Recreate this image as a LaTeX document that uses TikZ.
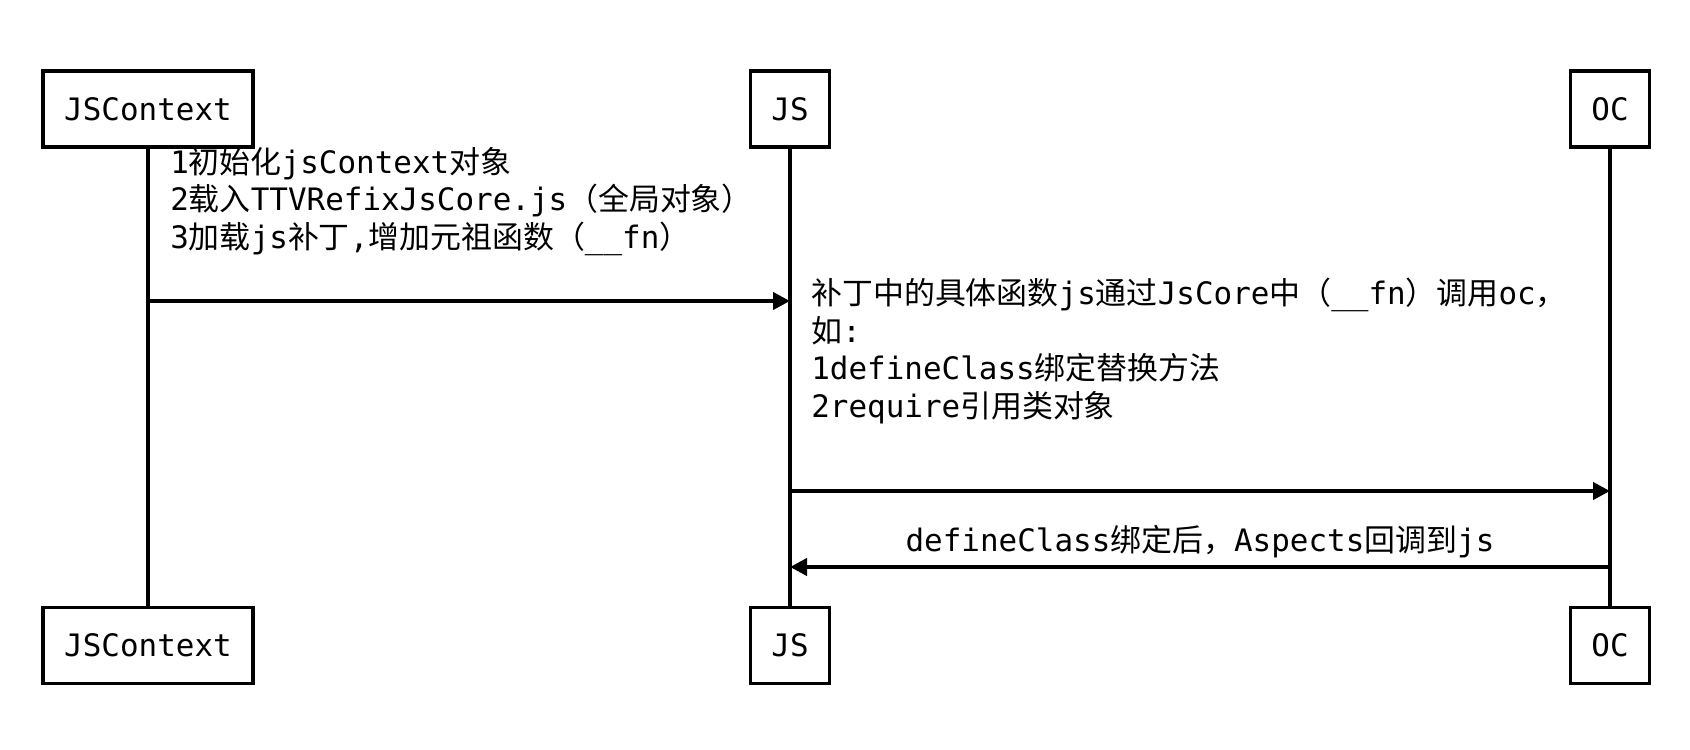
\documentclass[tikz,border=0pt]{standalone}
\usepackage{fontspec}
\setmainfont{DejaVu Sans Mono}
\newfontfamily\cjk{Noto Sans CJK SC}
\newcommand{\zh}[1]{{\cjk #1}}
\usetikzlibrary{arrows.meta,positioning,calc}

\begin{document}
\begin{tikzpicture}[
    x=0.02cm, y=-0.02cm,
    font=\fontsize{17.6}{21.3}\selectfont,
    actor/.style={draw, line width=2pt, minimum height=1.52cm, inner xsep=12pt},
    life/.style={line width=1.8pt},
    msg/.style={line width=2.2pt, -{Triangle[length=0.34cm, width=0.34cm]}},
    note/.style={anchor=north west, inner sep=0pt, align=left},
]
\useasboundingbox (0,0) rectangle (1690,750);

% Participants (top row)
\node[actor] (ctxTop) at (148, 109) {JSContext};
\node[actor] (jsTop)  at (790, 109) {JS};
\node[actor] (ocTop)  at (1610, 109) {OC};

% Participants (bottom row)
\node[actor] (ctxBot) at (148, 645.5) {JSContext};
\node[actor] (jsBot)  at (790, 645.5) {JS};
\node[actor] (ocBot)  at (1610, 645.5) {OC};

% Lifelines
\draw[life] (ctxTop) -- (ctxBot);
\draw[life] (jsTop) -- (jsBot);
\draw[life] (ocTop) -- (ocBot);

% Message end points on the lifelines
\coordinate (m1a) at (ctxTop |- 0,301);
\coordinate (m1b) at (jsTop |- 0,301);
\coordinate (m2a) at (jsTop |- 0,491);
\coordinate (m2b) at (ocTop |- 0,491);
\coordinate (m3a) at (ocTop |- 0,567);
\coordinate (m3b) at (jsTop |- 0,567);

% JSContext -> JS
\node[note] (initTxt) at (170, 147) {1\zh{初始化}jsContext\zh{对象}\\
2\zh{载入}TTVRefixJsCore.js\zh{（全局对象）}\\
3\zh{加载}js\zh{补丁},\zh{增加元祖函数（}\_\_fn\zh{）}};
\draw[msg] (m1a) -- (m1b);

% JS -> OC
\node[note] (callTxt) at (811, 278) {\zh{补丁中的具体函数}js\zh{通过}JsCore\zh{中（}\_\_fn\zh{）调用}oc\zh{，}\\
\zh{如}:\\
1defineClass\zh{绑定替换方法}\\
2require\zh{引用类对象}};
\draw[msg] (m2a) -- (m2b);

% OC -> JS (callback)
\draw[msg] (m3a) -- (m3b);
\node (backTxt) at ($(m3a)!0.5!(m3b)+(0,-25)$) {defineClass\zh{绑定后，}Aspects\zh{回调到}js};

\end{tikzpicture}
\end{document}
